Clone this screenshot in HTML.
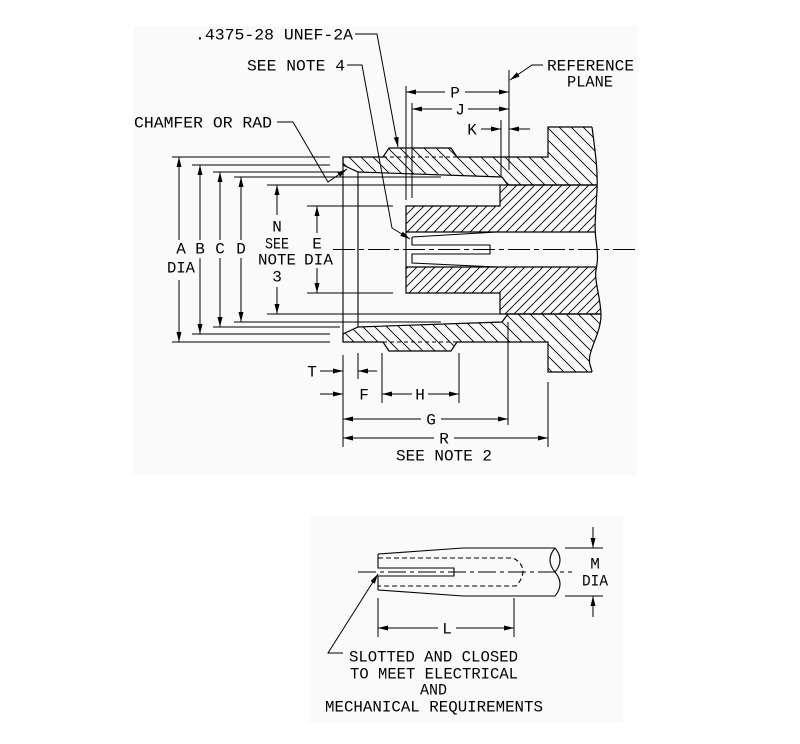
<!DOCTYPE html>
<html><head><meta charset="utf-8"><style>
html,body{margin:0;padding:0;background:#fff;}
svg{display:block;}
text{font-family:"Liberation Mono",monospace;font-size:16px;fill:#000;}
</style></head><body>
<svg width="800" height="744" viewBox="0 0 800 744" xmlns="http://www.w3.org/2000/svg">
<defs>
<marker id="a" markerUnits="userSpaceOnUse" markerWidth="11" markerHeight="6" refX="10" refY="2.5" orient="auto"><path d="M0,0 L10,2.5 L0,5 Z" fill="#000"/></marker>
<pattern id="hb" patternUnits="userSpaceOnUse" width="12" height="12"><path d="M-1,-1 L13,13 M-1,11 L1,13 M11,-1 L13,1" stroke="#000" stroke-width="0.9"/></pattern>
<pattern id="hf" patternUnits="userSpaceOnUse" width="9" height="9"><path d="M-1,10 L10,-1 M-1,1 L1,-1 M8,10 L10,8" stroke="#000" stroke-width="0.9"/></pattern>
<clipPath id="cut"><path d="M0,0 H592 V127 C595,150 598,170 597,190 S594,225 596,240 S598,260 596,270 S601,300 601,315 S592,345 590,355 S592,368 592,372 V744 H0 Z"/></clipPath>
</defs>

<rect x="133" y="26" width="505" height="449" fill="#fafafa"/>
<rect x="310" y="516" width="313" height="207" fill="#fafafa"/>

<!-- section -->
<g clip-path="url(#cut)" stroke="#000" stroke-width="1.2">
<path d="M343,157 L383,157 L389,148 L451,148 L457,157 L548,157 L548,127 L610,127 L610,185 L508,185 L502,177 L358,172 L343,165 Z" fill="url(#hb)"/>
<path d="M343,342 L383,342 L389,351 L451,351 L457,342 L548,342 L548,372 L610,372 L610,314 L508,314 L502,322 L358,327 L343,334 Z" fill="url(#hb)"/>
<path d="M406,206 L500,206 L500,185 L610,185 L610,232 L406,232 Z" fill="url(#hf)"/>
<path d="M406,293 L500,293 L500,314 L610,314 L610,267 L406,267 Z" fill="url(#hf)"/>
</g>
<path d="M592,127 C595,150 598,170 597,190 S594,225 596,240 S598,260 596,270 S601,300 601,315 S592,345 590,355 S592,368 592,372" fill="none" stroke="#000" stroke-width="1.2"/>

<g stroke="#000" stroke-width="1.1" fill="none">
<path d="M343,157 V342 M358,172 V327 M406,232 V267"/>
<path d="M412,237 L497,232 M412,237 V245 H490 V254 H412 V263 L497,267"/>
<path d="M383,157 H457 M383,342 H457" stroke-dasharray="4,3"/>
</g>

<!-- extension lines -->
<g stroke="#000" stroke-width="1" fill="none">
<path d="M172,157 H330 M192,165 H330 M213,172 H340 M234,177 H441 M267,185 H500 M307,206 H393"/>
<path d="M172,342 H330 M192,334 H330 M213,327 H340 M234,322 H441 M267,314 H500 M307,293 H393"/>
<path d="M406,86 V200 M412,103 V198 M501,120 V177 M509,70 V170"/>
<path d="M343,355 V447 M358,353 V379 M382,353 V403 M459,353 V403 M508,322 V425 M548,382 V447"/>
<path d="M333,249.5 H635" stroke-dasharray="22,4,5,4"/>
</g>

<!-- dimension lines -->
<g stroke="#000" stroke-width="1" fill="none" marker-end="url(#a)">
<path d="M445,92 H406"/><path d="M465,92 H509"/>
<path d="M452,109 H412"/><path d="M468,109 H509"/>
<path d="M481,129 H501"/><path d="M530,129 H509"/>
<path d="M179,240 V157"/><path d="M179,280 V342"/>
<path d="M200,240 V165"/><path d="M200,258 V334"/>
<path d="M220,240 V172"/><path d="M220,258 V327"/>
<path d="M241,240 V177"/><path d="M241,258 V322"/>
<path d="M277,215 V185"/><path d="M277,287 V314"/>
<path d="M317,233 V206"/><path d="M317,268 V293"/>
<path d="M320,371 H343"/><path d="M377,371 H358"/>
<path d="M320,394 H343"/>
<path d="M412,394 H382"/><path d="M428,394 H459"/>
<path d="M421,419 H343"/><path d="M441,419 H508"/>
<path d="M434,438 H343"/><path d="M454,438 H548"/>
<path d="M355,34 H377 L398,147"/>
<path d="M347,65 H362 L392,228 L410,239"/>
<path d="M277,122 H293 L328,182 L347,169"/>
<path d="M543,65 H532 L510,80"/>
<path d="M593,527 V548"/><path d="M593,617 V596"/>
<path d="M438,628 H378"/><path d="M456,628 H514"/>
<path d="M343,653 H328 L378,574"/>
</g>

<!-- lower pin -->
<g stroke="#000" stroke-width="1.1" fill="none">
<path d="M378,554 L463,548 H555 M378,590 L463,596 H555"/>
<path d="M378,554 V568 H454 V576 H378 V590"/>
<path d="M555,548 Q545,560 555,572 Q565,560 555,548 M555,572 Q565,584 555,596"/>
<path d="M378,558 H513 Q523,563 523,572 Q522,580 516,586 H378" stroke-dasharray="5,3"/>
<path d="M358,572 H572" stroke-dasharray="18,4,4,4" stroke-width="1"/>
<path d="M565,548 H603 M565,596 H603 M378,598 V637 M514,598 V637" stroke-width="1"/>
</g>

<!-- text -->
<text x="195" y="39.5" textLength="158" lengthAdjust="spacingAndGlyphs">.4375-28 UNEF-2A</text>
<text x="247" y="70.5" textLength="98" lengthAdjust="spacingAndGlyphs">SEE NOTE 4</text>
<text x="134" y="127.5" textLength="138" lengthAdjust="spacingAndGlyphs">CHAMFER OR RAD</text>
<text x="547" y="70.5" textLength="87" lengthAdjust="spacingAndGlyphs">REFERENCE</text>
<text x="567" y="86.5" textLength="46" lengthAdjust="spacingAndGlyphs">PLANE</text>
<g text-anchor="middle">
<text x="455" y="97.5">P</text>
<text x="460" y="114.5">J</text>
<text x="472" y="134.5">K</text>
<text x="181" y="253.5">A</text>
<text x="200" y="253.5">B</text>
<text x="220" y="253.5">C</text>
<text x="241" y="253.5">D</text>
<text x="277" y="231.5">N</text>
<text x="277" y="281.5">3</text>
<text x="317" y="248.5">E</text>
<text x="312" y="376.5">T</text>
<text x="364" y="399.5">F</text>
<text x="420" y="399.5">H</text>
<text x="431" y="424.5">G</text>
<text x="444" y="443.5">R</text>
<text x="595" y="568.5">M</text>
<text x="447" y="633.5">L</text>
</g>
<text x="167" y="272.5" textLength="28" lengthAdjust="spacingAndGlyphs">DIA</text>
<text x="265" y="248.5" textLength="24" lengthAdjust="spacingAndGlyphs">SEE</text>
<text x="258" y="264.5" textLength="38" lengthAdjust="spacingAndGlyphs">NOTE</text>
<text x="304" y="264.5" textLength="29" lengthAdjust="spacingAndGlyphs">DIA</text>
<text x="396" y="460.5" textLength="96" lengthAdjust="spacingAndGlyphs">SEE NOTE 2</text>
<text x="582" y="585.5" textLength="26" lengthAdjust="spacingAndGlyphs">DIA</text>
<text x="349" y="661.5" textLength="169" lengthAdjust="spacingAndGlyphs">SLOTTED AND CLOSED</text>
<text x="350" y="678.5" textLength="168" lengthAdjust="spacingAndGlyphs">TO MEET ELECTRICAL</text>
<text x="420" y="694.5" textLength="27" lengthAdjust="spacingAndGlyphs">AND</text>
<text x="325" y="711.5" textLength="218" lengthAdjust="spacingAndGlyphs">MECHANICAL REQUIREMENTS</text>
</svg>
</body></html>
